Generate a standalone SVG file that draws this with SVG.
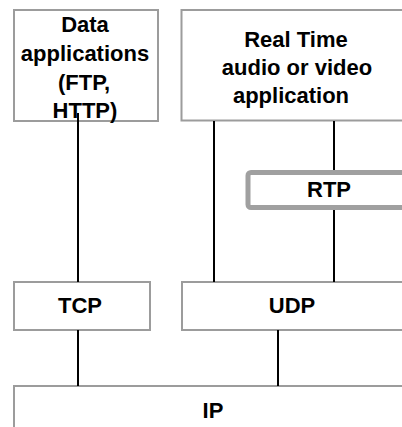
<svg xmlns="http://www.w3.org/2000/svg" width="402" height="427" viewBox="0 0 402 427">
  <style>
    .box { fill: #ffffff; stroke: #9c9c9c; stroke-width: 2; }
    .thick { fill: #ffffff; stroke: #a0a0a0; stroke-width: 5; }
    .lbl { font-family: "Liberation Sans", Arial, sans-serif; font-size: 22px; font-weight: bold; fill: #000000; text-anchor: middle; }
    .wire { stroke: #000000; stroke-width: 2; fill: none; }
  </style>
  <rect width="402" height="427" fill="#ffffff"/>

  <!-- application layer -->
  <g id="data-apps">
    <rect class="box" x="14" y="10" width="144" height="111"/>
    <text class="lbl" x="85" y="32">Data</text>
    <text class="lbl" x="85" y="60.5">applications</text>
    <text class="lbl" x="84" y="89.5">(FTP,</text>
    <text class="lbl" x="85" y="118">HTTP)</text>
  </g>
  <g id="realtime-app">
    <rect class="box" x="181.5" y="10" width="240" height="110.5"/>
    <text class="lbl" x="296" y="47">Real Time</text>
    <text class="lbl" x="297" y="75">audio or video</text>
    <text class="lbl" x="291" y="103">application</text>
  </g>

  <!-- RTP sits between the application and UDP -->
  <g id="rtp">
    <rect class="thick" x="248" y="172.5" width="180" height="35" rx="3"/>
    <text class="lbl" x="329" y="197">RTP</text>
  </g>

  <!-- transport layer -->
  <g id="tcp">
    <rect class="box" x="14" y="282" width="136" height="48"/>
    <text class="lbl" x="80" y="313">TCP</text>
  </g>
  <g id="udp">
    <rect class="box" x="182" y="282" width="240" height="48"/>
    <text class="lbl" x="292" y="313">UDP</text>
  </g>

  <!-- network layer -->
  <g id="ip">
    <rect class="box" x="14" y="386" width="400" height="60"/>
    <text class="lbl" x="213" y="418">IP</text>
  </g>

  <g id="connectors">
    <line class="wire" x1="78" y1="113" x2="78" y2="282"/>
    <line class="wire" x1="214" y1="121" x2="214" y2="282"/>
    <line class="wire" x1="334" y1="121" x2="334" y2="170"/>
    <line class="wire" x1="334" y1="210" x2="334" y2="282"/>
    <line class="wire" x1="78" y1="330" x2="78" y2="386"/>
    <line class="wire" x1="278" y1="330" x2="278" y2="386"/>
  </g>
</svg>
